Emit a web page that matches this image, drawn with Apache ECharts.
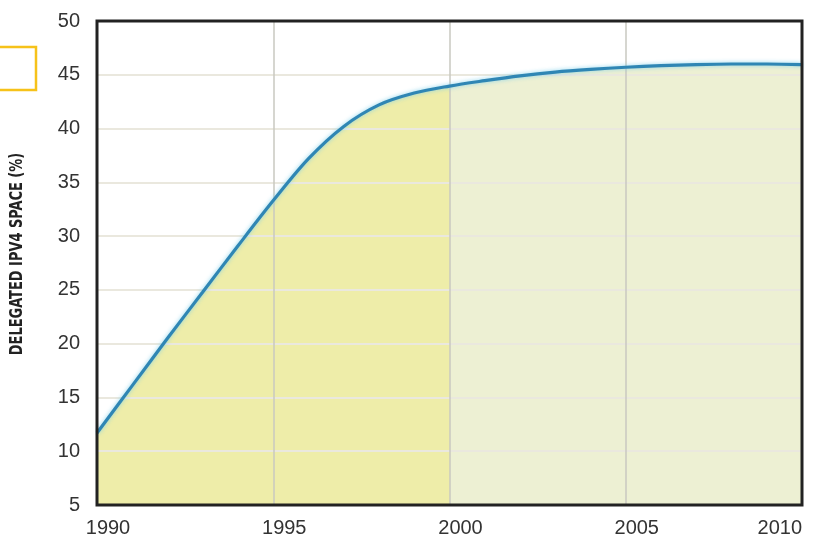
<!DOCTYPE html>
<html>
<head>
<meta charset="utf-8">
<script src="https://cdn.jsdelivr.net/npm/echarts@6/dist/echarts.min.js"></script>
<style>
html,body{margin:0;padding:0;background:#fff;}
#chart{width:816px;height:538px;}
</style>
</head>
<body>
<div id="chart"></div>
<script>
const years = [1990,1991,1992,1993,1994,1995,1996,1997,1998,1999,2000,2001,2002,2003,2004,2005,2006,2007,2008,2009,2010];
const delegated = [11.7,16.1,20.5,24.8,29.1,33.3,37.2,40.2,42.2,43.3,43.95,44.45,44.9,45.25,45.5,45.7,45.85,45.95,46.0,46.0,45.95];
const xTicks = {min:1990, max:2010, step:5};
const yTicks = {min:5, max:50, step:5};
const yTitle = 'DELEGATED IPV4 SPACE (%)';

const pts = years.map((y,i)=>[y, delegated[i]]);
const chart = echarts.init(document.getElementById('chart'), null, {renderer:'canvas'});
const fillGrad = new echarts.graphic.LinearGradient(0,0,1,0,[
  {offset:0,color:'#EEEDA9'},{offset:0.5,color:'#EEEDA9'},
  {offset:0.5,color:'#EDF0D3'},{offset:1,color:'#EDF0D3'}
]);
chart.setOption({
  animation:false,
  backgroundColor:'#fff',
  grid:{left:97,right:14,top:21,bottom:33,show:true,borderColor:'#222',borderWidth:3,backgroundColor:'transparent',z:4},
  xAxis:{type:'value',min:xTicks.min,max:xTicks.max,interval:xTicks.step,z:2,
    axisLine:{show:false},axisTick:{show:false},
    axisLabel:{fontFamily:'Liberation Sans',fontSize:20,color:'#333',margin:13,padding:[0,0,0,22],alignMaxLabel:'right',
      formatter:v=>String(v)},
    splitLine:{show:true,lineStyle:{color:'#C9C9C0',width:1.5}}},
  yAxis:{type:'value',min:yTicks.min,max:yTicks.max,interval:yTicks.step,z:2,
    axisLine:{show:false},axisTick:{show:false},
    axisLabel:{fontFamily:'Liberation Sans',fontSize:20,color:'#333',margin:17,padding:[0,0,10,0]},
    splitLine:{show:true,lineStyle:{color:'#EAE8DE',width:2}}},
  graphic:[
    {type:'rect',shape:{x:-5,y:47,width:41,height:43},style:{fill:'none',stroke:'#F6C21A',lineWidth:2.5},z:10},
    {type:'text',x:17,y:254,rotation:Math.PI/2,scaleX:0.8,scaleY:1,style:{text:yTitle,fontFamily:'DejaVu Sans Condensed, sans-serif',fontWeight:'bold',fontSize:18,fill:'#222',align:'center',verticalAlign:'middle'},z:10}
  ],
  series:[
    {type:'line',data:pts,smooth:0.33,symbol:'none',z:1,lineStyle:{width:0,opacity:0},areaStyle:{color:fillGrad,opacity:1}},
    {type:'line',data:pts,smooth:0.33,symbol:'none',z:3,
      lineStyle:{color:'#2F86B4',width:3.2,shadowColor:'rgba(130,210,235,0.9)',shadowBlur:4}}
  ]
});
</script>
</body>
</html>
